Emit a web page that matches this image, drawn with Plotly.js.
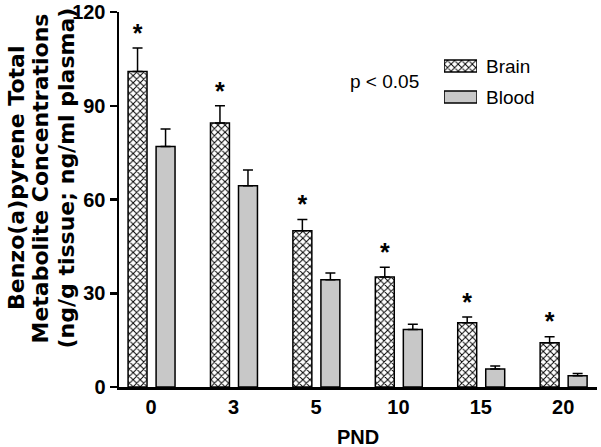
<!DOCTYPE html>
<html>
<head>
<meta charset="utf-8">
<script src="https://cdn.plot.ly/plotly-3.0.1.min.js"></script>
<style>html,body{margin:0;padding:0;background:#fff;}#chart{width:601px;height:447px;}</style>
</head>
<body>
<div id="chart"></div>
<script>
// Data
const categories = ['0', '3', '5', '10', '15', '20'];
const brainValues = [101, 84.5, 50, 35.2, 20.6, 14.2];
const brainErrors = [7.5, 5.5, 3.6, 3.1, 1.8, 1.9];
const bloodValues = [77, 64.4, 34.3, 18.4, 5.8, 3.6];
const bloodErrors = [5.6, 5.0, 2.2, 1.7, 0.9, 0.7];
const significant = [true, true, true, true, true, true];
const seriesNames = ['Brain', 'Blood'];
const yTicks = [0, 30, 60, 90, 120];
const yTitleLines = ['Benzo(a)pyrene Total', 'Metabolite Concentrations', '(ng/g tissue; ng/ml plasma)'];

const xIdx = categories.map((_, i) => i);
const barW = 0.23;
const brainOff = -0.28;
const bloodOff = 0.06;
const font = 'Arial, "Liberation Sans", sans-serif';
const titleFont = '"DejaVu Sans", sans-serif';
const brainPattern = {shape: 'x', size: 5, solidity: 0.35, fgcolor: '#000', bgcolor: '#fff', fillmode: 'replace'};
const bloodColor = '#c8c8c8';

const traces = [
  {
    type: 'bar', name: seriesNames[0], x: xIdx, y: brainValues,
    width: barW, offset: brainOff,
    marker: {color: '#fff', pattern: brainPattern, line: {color: '#000', width: 1.5}},
    error_y: {type: 'data', symmetric: false, array: brainErrors, arrayminus: brainErrors.map(() => 0), color: '#000', thickness: 1.5, width: 5},
    showlegend: false, hoverinfo: 'skip'
  },
  {
    type: 'bar', name: seriesNames[1], x: xIdx, y: bloodValues,
    width: barW, offset: bloodOff,
    marker: {color: bloodColor, line: {color: '#000', width: 1.5}},
    error_y: {type: 'data', symmetric: false, array: bloodErrors, arrayminus: bloodErrors.map(() => 0), color: '#000', thickness: 1.5, width: 5},
    showlegend: false, hoverinfo: 'skip'
  },
  {
    type: 'scatter', mode: 'text',
    x: xIdx.filter((_, i) => significant[i]).map(i => i + brainOff + barW / 2),
    y: brainValues.map((v, i) => v + brainErrors[i]).filter((_, i) => significant[i]),
    text: significant.filter(s => s).map(() => '*'),
    textposition: 'top center',
    textfont: {family: font, size: 25, color: '#000', weight: 'bold'},
    showlegend: false, hoverinfo: 'skip', cliponaxis: false
  },
  // legend swatches
  {
    type: 'bar', orientation: 'h', x: [1], y: [1], width: 0.39,
    xaxis: 'x2', yaxis: 'y2',
    marker: {color: '#fff', pattern: brainPattern, line: {color: '#000', width: 1.5}},
    showlegend: false, hoverinfo: 'skip'
  },
  {
    type: 'bar', orientation: 'h', x: [1], y: [0], width: 0.39,
    xaxis: 'x2', yaxis: 'y2',
    marker: {color: bloodColor, line: {color: '#000', width: 1.5}},
    showlegend: false, hoverinfo: 'skip'
  }
];

const titleX = [-0.2155, -0.1643, -0.1099];
const layout = {
  width: 601, height: 447,
  margin: {l: 119, r: 4, t: 12, b: 60},
  paper_bgcolor: '#fff', plot_bgcolor: '#fff',
  barmode: 'overlay',
  showlegend: false,
  font: {family: font, color: '#000'},
  xaxis: {
    range: [-0.39, 5.41], tickvals: xIdx, ticktext: categories,
    showgrid: false, zeroline: false, showline: true, linecolor: '#000', linewidth: 2.5,
    ticks: '', tickfont: {family: font, size: 20, color: '#000', weight: 'bold'},
    fixedrange: true
  },
  yaxis: {
    range: [0, 120], tickvals: yTicks, ticktext: yTicks.map(String),
    showgrid: false, zeroline: false, showline: true, linecolor: '#000', linewidth: 2.5,
    ticks: 'outside', ticklen: 7, tickwidth: 2.5, tickcolor: '#000',
    tickfont: {family: font, size: 20, color: '#000', weight: 'bold'},
    fixedrange: true
  },
  xaxis2: {domain: [0.680, 0.749], range: [0, 1], visible: false, anchor: 'y2', fixedrange: true},
  yaxis2: {domain: [0.7307, 0.8987], range: [-0.516, 1.516], visible: false, anchor: 'x2', fixedrange: true},
  annotations: [
    {xref: 'paper', yref: 'paper', x: 0.479, y: 0.816, xanchor: 'left', yanchor: 'middle', showarrow: false,
     text: 'p < 0.05', font: {family: font, size: 19, color: '#000'}},
    {xref: 'paper', yref: 'paper', x: 0.7636, y: 0.856, xanchor: 'left', yanchor: 'middle', showarrow: false,
     text: seriesNames[0], font: {family: font, size: 19, color: '#000'}},
    {xref: 'paper', yref: 'paper', x: 0.7636, y: 0.7733, xanchor: 'left', yanchor: 'middle', showarrow: false,
     text: seriesNames[1], font: {family: font, size: 19, color: '#000'}},
    {xref: 'paper', yref: 'paper', x: 0.5, y: -0.1333, xanchor: 'center', yanchor: 'middle', showarrow: false,
     text: 'PND', font: {family: font, size: 20, color: '#000', weight: 'bold'}}
  ].concat(yTitleLines.map((t, i) => ({
     xref: 'paper', yref: 'paper', x: titleX[i], y: 0.5573, xanchor: 'center', yanchor: 'middle', showarrow: false,
     textangle: -90, text: t, font: {family: titleFont, size: 22, color: '#000', weight: 'bold'}
  })))
};

Plotly.newPlot('chart', traces, layout, {staticPlot: true, displayModeBar: false});
</script>
</body>
</html>
